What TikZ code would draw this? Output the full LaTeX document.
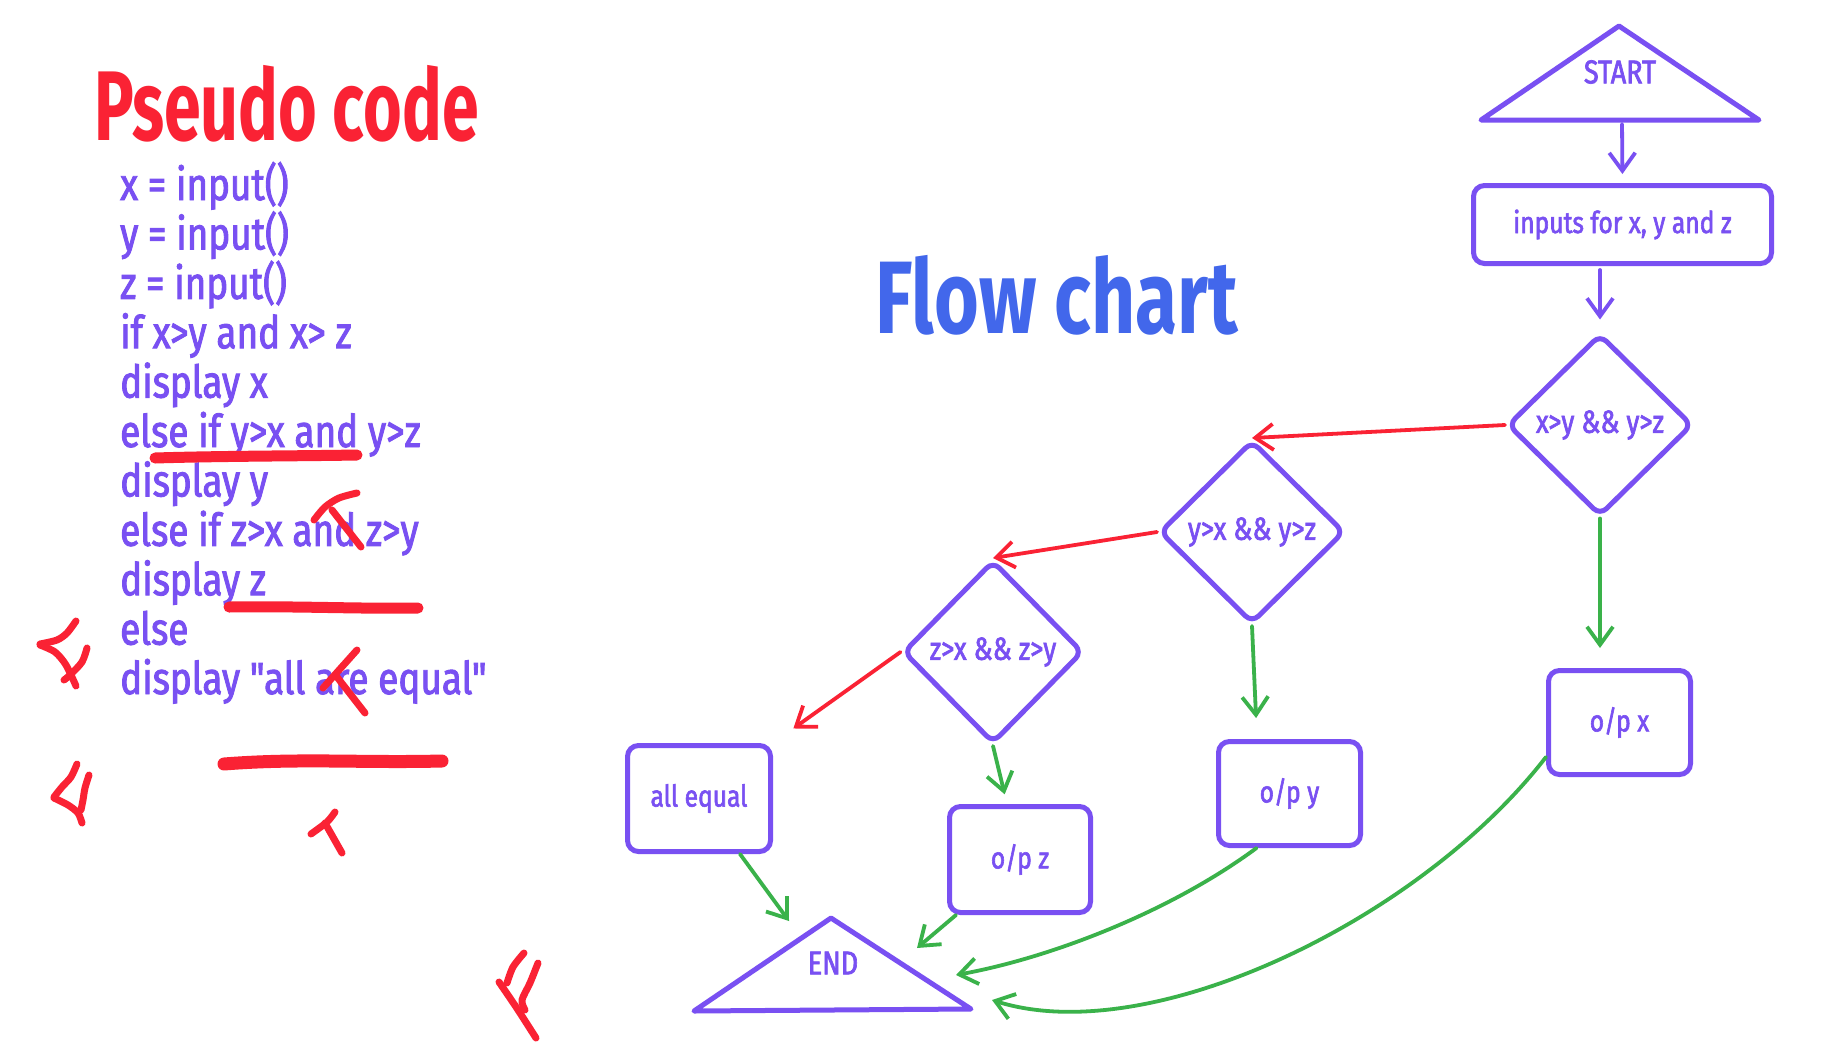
\documentclass[tikz,border=0pt]{standalone}
\usepackage{fontspec}
\usetikzlibrary{arrows.meta,shapes.geometric,calc}
\newfontfamily\handfont[FakeStretch=0.82,FakeBold=2]{Fira Sans}
\newfontfamily\ttlfontA[FakeStretch=0.67]{Fira Sans}
\newfontfamily\ttlfontB[FakeStretch=0.745]{Fira Sans}
\newcommand\hwnode{\handfont\fontsize{30}{34}\selectfont}
\newcommand\hwdia{\handfont\fontsize{32}{36}\selectfont}
\newcommand\hwtri{\handfont\fontsize{33}{36}\selectfont}
\newcommand\hwcode{\handfont\fontsize{45}{50}\selectfont}
\definecolor{vio}{RGB}{121,80,242}
\definecolor{rd}{RGB}{250,34,52}
\definecolor{gr}{RGB}{58,178,74}
\definecolor{bl}{RGB}{66,103,235}
\tikzset{
  box/.style={draw=vio, line width=5pt, rounded corners=11pt, inner sep=0pt, font=\hwnode, text=vio},
  dia/.style={diamond, draw=vio, line width=5pt, rounded corners=9pt, inner sep=0pt, font=\hwdia, text=vio},
  trishape/.style={draw=vio, line width=5pt, line join=round, line cap=round},
  tritext/.style={font=\hwtri, text=vio, inner sep=0pt},
  codeline/.style={anchor=base west, inner sep=0pt, font=\hwcode, text=vio},
  arr/.style={line width=3.8pt, line cap=round, line join=round, -{Straight Barb[length=18pt,width=26pt]}},
  varr/.style={arr, draw=vio},
  rarr/.style={arr, draw=rd},
  garr/.style={arr, draw=gr},
  rmk/.style={draw=rd, line width=7pt, line cap=round, line join=round},
  rul/.style={draw=rd, line width=11pt, line cap=round, line join=round},
}
\begin{document}
\begin{tikzpicture}[x=1pt,y=-1pt]
\fill[white] (0,0) rectangle (1837,1058);
\useasboundingbox (0,0) rectangle (1837,1058);

% titles
\node[anchor=base west, inner sep=0pt, text=rd, font=\ttlfontA\bfseries\fontsize{99}{99}\selectfont] (ptitle) at (94,140) {Pseudo code};
\node[anchor=base west, inner sep=0pt, text=bl, font=\ttlfontB\bfseries\fontsize{103}{103}\selectfont] (ftitle) at (875,333) {Flow chart};

% pseudo code
\node[codeline] (c1) at (120,200) {x = input()};
\node[codeline] (c2) at (120,249.4) {y = input()};
\node[codeline] (c3) at (120,298.8) {z = input()};
\node[codeline] (c4) at (120,348.2) {if x>y and x> z};
\node[codeline] (c5) at (120,397.6) {display x};
\node[codeline] (c6) at (120,447) {else if y>x and y>z};
\node[codeline] (c7) at (120,496.4) {display y};
\node[codeline] (c8) at (120,545.8) {else if z>x and z>y};
\node[codeline] (c9) at (120,595.2) {display z};
\node[codeline] (c10) at (120,644.6) {else};
\node[codeline] (c11) at (120,694) {display "all are equal"};

% red marks
\draw[rul] (155,458) .. controls (220,456) and (300,456) .. (357,455);
\draw[rmk] plot[smooth] coordinates {(357,493) (339,498) (325,507) (314,520)};
\draw[rmk] (332,510) -- (361,547);
\draw[rul] (229,607) .. controls (300,606) and (360,609) .. (418,608);
\draw[rmk] plot[smooth] coordinates {(76,621) (67,633) (57,640) (40,644)};
\draw[rmk] plot[smooth] coordinates {(40,645) (55,652) (66,665) (76,686)};
\draw[rmk] plot[smooth] coordinates {(87,648) (82,662) (70,675) (64,680)};
\draw[rmk] (357,650) -- (323,688);
\draw[rmk] (337,677) -- (365,713);
\draw[rul, line width=13pt] (224,764) .. controls (300,758) and (360,763) .. (442,761);
\draw[rmk] plot[smooth] coordinates {(77,764) (71,777) (62,787) (54,797)};
\draw[rmk] plot[smooth] coordinates {(54,798) (68,805) (78,813) (82,823)};
\draw[rmk] plot[smooth] coordinates {(89,775) (85,788) (83,800) (81,810)};
\draw[rmk] plot[smooth] coordinates {(335,812) (327,822) (311,834)};
\draw[rmk] (325,823) -- (342,853);
\draw[rmk] plot[smooth] coordinates {(524,953) (513,967) (507,983)};
\draw[rmk] plot[smooth] coordinates {(499,982) (510,998) (520,1013) (536,1038)};
\draw[rmk] plot[smooth] coordinates {(538,963) (530,983) (522,1000) (525,1010)};

% START triangle
\draw[trishape] (1619,26) -- (1481,120) -- (1759,120) -- cycle;
\node[tritext] (start) at (1620,72) {START};
\coordinate (sb) at (1622,122);

% boxes
\node[box, minimum width=298pt, minimum height=78pt] (inputs) at (1622.5,224.5) {inputs for x, y and z};
\node[box, minimum width=143pt, minimum height=106pt] (alleq) at (699,798.5) {all equal};
\node[box, minimum width=141pt, minimum height=106pt] (opz) at (1020,859.5) {o/p z};
\node[box, minimum width=142pt, minimum height=104pt] (opy) at (1289.5,793.5) {o/p y};
\node[box, minimum width=142pt, minimum height=104pt] (opx) at (1619.5,722.5) {o/p x};

% diamonds
\node[dia, minimum width=185pt, minimum height=182pt] (d1) at (1600,425) {x>y \&\& y>z};
\node[dia, minimum width=185pt, minimum height=183pt] (d2) at (1252,532) {y>x \&\& y>z};
\node[dia, minimum width=180pt, minimum height=183pt] (d3) at (993,652) {z>x \&\& z>y};

% END triangle
\draw[trishape] (831,918) -- (694,1011) -- (971,1009) -- cycle;
\node[tritext] (endn) at (833,963) {END};
\coordinate (e1) at (789,921);
\coordinate (e2) at (917,948);
\coordinate (e3) at (956,975);
\coordinate (e4) at (992,1000);

% connectors
\draw[varr, shorten <=2pt, shorten >=9pt] (sb) -- (inputs.north);
\draw[varr, shorten <=4pt, shorten >=12pt] (inputs.south -| d1.north) -- (d1.north);
\draw[rarr] (d1.west) -- (d2.north);
\draw[rarr] (d2.west) -- (d3.north);
\draw[rarr, shorten >=25pt] (d3.west) -- (alleq.north east);
\draw[garr, shorten >=20pt] (d1.south) -- (d1.south |- opx.north);
\draw[garr, shorten >=21pt] (d2.south) -- ($(d2.south |- opy.north)+(5,0)$);
\draw[garr, shorten >=10pt] (d3.south) -- ($(d3.south |- opz.north)+(14,0)$);
\draw[garr] ($(alleq.south)+(41,0)$) -- (e1);
\draw[garr] ($(opz.south west)+(9,0)$) -- (e2);
\draw[garr] ($(opy.south)+(-33,0)$) .. controls (1170,912) and (1050,958) .. (e3);
\draw[garr] ($(opx.south west)+(0,-20)$) .. controls (1420,920) and (1150,1050) .. (e4);
\end{tikzpicture}
\end{document}
